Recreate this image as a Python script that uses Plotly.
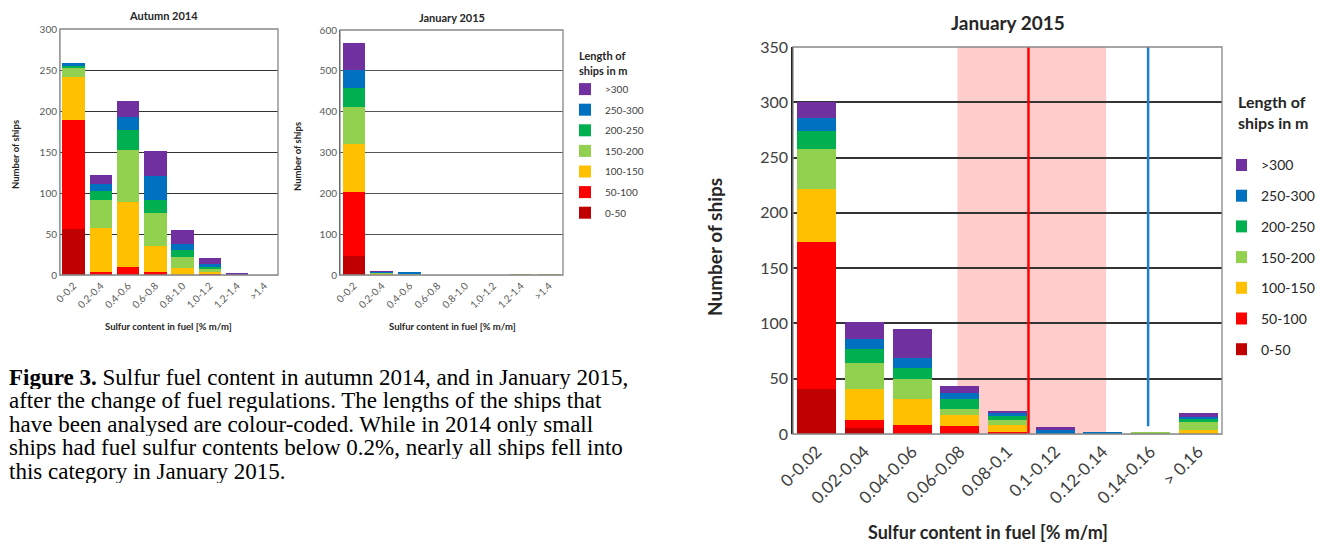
import plotly.graph_objects as go

W, H = 1331, 544
OFF = 8  # page body margin of the html page

size_classes = ["0-50", "50-100", "100-150", "150-200", "200-250", "250-300", ">300"]
size_colors = ["#C00000", "#FF0000", "#FFC000", "#92D050", "#00B050", "#0070C0", "#7030A0"]

cats_coarse = ["0-0.2", "0.2-0.4", "0.4-0.6", "0.6-0.8", "0.8-1.0", "1.0-1.2", "1.2-1.4", ">1.4"]
cats_fine = ["0-0.02", "0.02-0.04", "0.04-0.06", "0.06-0.08", "0.08-0.1",
             "0.1-0.12", "0.12-0.14", "0.14-0.16", "> 0.16"]

# Autumn 2014 (rows = size classes, cols = coarse sulfur categories)
autumn_0_50 = [56, 0, 0, 0, 0, 0, 0, 0]
autumn_50_100 = [133, 4, 10, 4, 0, 1, 0, 0]
autumn_100_150 = [52, 53, 79, 31, 8, 3, 0, 0]
autumn_150_200 = [11, 35, 63, 41, 14, 4, 0, 0]
autumn_200_250 = [4, 11, 25, 15, 8, 2, 0, 0]
autumn_250_300 = [2, 8, 16, 30, 8, 3, 0, 0]
autumn_300p = [0, 11, 19, 30, 17, 8, 2, 0]

# January 2015, coarse categories
jan_0_50 = [46, 0, 0, 0, 0, 0, 0, 0]
jan_50_100 = [157, 1, 0, 0, 0, 0, 0, 0]
jan_100_150 = [117, 3, 0, 0, 0, 0, 0, 0]
jan_150_200 = [91, 2, 3, 0, 0, 0, 2, 2]
jan_200_250 = [48, 1, 1, 0, 0, 0, 0, 0]
jan_250_300 = [42, 1, 2, 0, 0, 0, 0, 0]
jan_300p = [68, 1, 0, 0, 0, 0, 0, 0]

# January 2015, fine categories
fine_0_50 = [41, 5, 0, 0, 0, 0, 0, 0, 0]
fine_50_100 = [133, 8, 8, 7, 2, 0, 0, 0, 0]
fine_100_150 = [48, 28, 24, 10, 6, 0, 0, 0, 4]
fine_150_200 = [36, 23, 18, 6, 5, 0, 0, 1, 7]
fine_200_250 = [16, 13, 10, 9, 3, 0, 0, 0, 3]
fine_250_300 = [12, 9, 9, 5, 3, 4, 1, 0, 1]
fine_300p = [14, 15, 26, 6, 2, 2, 0, 0, 4]

autumn = [autumn_0_50, autumn_50_100, autumn_100_150, autumn_150_200,
          autumn_200_250, autumn_250_300, autumn_300p]
jan = [jan_0_50, jan_50_100, jan_100_150, jan_150_200, jan_200_250, jan_250_300, jan_300p]
fine = [fine_0_50, fine_50_100, fine_100_150, fine_150_200, fine_200_250, fine_250_300, fine_300p]

limit_line = 4.44     # 0.1 % limit, category-axis position
limit_band = (2.95, 6.07)
blue_line = 6.95

caption_lines = [
    "<b>Figure 3.</b> Sulfur fuel content in autumn 2014, and in January 2015,",
    "after the change of fuel regulations. The lengths of the ships that",
    "have been analysed are colour-coded. While in 2014 only small",
    "ships had fuel sulfur contents below 0.2%, nearly all ships fell into",
    "this category in January 2015.",
]

FONT = "Lato"


def px(x):
    return max(0.0, (x - OFF) / W)


def py(y):
    return 1 - (y - OFF) / H


fig = go.Figure()

n = len(size_classes)
for i, (name, col) in enumerate(zip(size_classes, size_colors)):
    fig.add_trace(go.Bar(x=cats_coarse, y=autumn[i], name=name, marker_color=col,
                         marker_line_width=0, xaxis="x", yaxis="y", showlegend=False))
    fig.add_trace(go.Bar(x=cats_coarse, y=jan[i], name=name, marker_color=col,
                         marker_line_width=0, xaxis="x2", yaxis="y2",
                         legend="legend", legendgroup="a" + name, legendrank=100 + n - i))
    fig.add_trace(go.Bar(x=cats_fine, y=fine[i], name=name, marker_color=col,
                         marker_line_width=0, xaxis="x3", yaxis="y3",
                         legend="legend2", legendgroup="b" + name, legendrank=100 + n - i))

small_tick = dict(family=FONT, size=10, color="#595959")
big_ytick = dict(family=FONT, size=16, color="#404040")
big_xtick = dict(family=FONT, size=17, color="#404040")

fig.update_layout(
    width=W, height=H,
    margin=dict(l=0, r=0, t=0, b=0, autoexpand=False),
    paper_bgcolor="white", plot_bgcolor="white",
    barmode="stack", bargap=0.18,
    font=dict(family=FONT, color="#404040"),
    xaxis=dict(type="category", domain=[px(60), px(278)], anchor="y", tickangle=-45,
               tickfont=small_tick, showline=True, linecolor="#D9D9D9", linewidth=1,
               ticks="", showgrid=False),
    yaxis=dict(domain=[py(275), py(29)], anchor="x", range=[0, 300], dtick=50,
               tickfont=small_tick, showgrid=True, gridcolor="#333333", gridwidth=1.3,
               showline=True, linecolor="#BFBFBF", ticks="", zeroline=False),
    xaxis2=dict(type="category", domain=[px(340), px(563)], anchor="y2", tickangle=-45,
                tickfont=small_tick, showline=True, linecolor="#D9D9D9", linewidth=1,
                ticks="", showgrid=False),
    yaxis2=dict(domain=[py(275), py(30)], anchor="x2", range=[0, 600], dtick=100,
                tickfont=small_tick, showgrid=True, gridcolor="#555555", gridwidth=1,
                showline=True, linecolor="#333333", ticks="", zeroline=False),
    xaxis3=dict(type="category", domain=[px(793), px(1222)], anchor="y3", tickangle=-45,
                tickfont=big_xtick, showline=True, linecolor="#D9D9D9", linewidth=1,
                ticks="", showgrid=False),
    yaxis3=dict(domain=[py(434), py(47)], anchor="x3", range=[0, 350], dtick=50,
                tickfont=big_ytick, showgrid=True, gridcolor="#333333", gridwidth=1.5,
                showline=True, linecolor="#222222", linewidth=1.5, ticks="", zeroline=False),
    legend=dict(x=px(577), y=py(46), xanchor="left", yanchor="top",
                traceorder="grouped", tracegroupgap=1.6, indentation=-12,
                font=dict(family=FONT, size=10, color="#404040"),
                title=dict(text="<b>Length of<br>ships in m</b>",
                           font=dict(family=FONT, size=11, color="#262626")),
                bgcolor="rgba(0,0,0,0)"),
    legend2=dict(x=px(1236), y=py(87), xanchor="left", yanchor="top",
                 traceorder="grouped", tracegroupgap=9.5, indentation=-15,
                 font=dict(family=FONT, size=14, color="#262626"),
                 title=dict(text="<b>Length of<br>ships in m</b><br>\u00a0",
                            font=dict(family=FONT, size=16, color="#262626")),
                 bgcolor="rgba(0,0,0,0)"),
)

shapes = [
    dict(type="rect", xref="x3", yref="y3 domain", x0=limit_band[0], x1=limit_band[1],
         y0=0, y1=1, fillcolor="#FFCCCC", line_width=0, layer="below"),
    dict(type="line", xref="x3", yref="y3 domain", x0=limit_line, x1=limit_line,
         y0=0, y1=1, line=dict(color="#FF0000", width=2.5), layer="above"),
    dict(type="line", xref="x3", yref="y3 domain", x0=blue_line, x1=blue_line,
         y0=0.02, y1=1, line=dict(color="#1F7FCF", width=2.5), layer="above"),
]
for ax in ["", "2", "3"]:
    shapes.append(dict(type="rect", xref=f"x{ax} domain", yref=f"y{ax} domain",
                       x0=0, x1=1, y0=0, y1=1, line=dict(color="#888888", width=1.3),
                       fillcolor="rgba(0,0,0,0)", layer="above"))
fig.update_layout(shapes=shapes)

ann = []


def text(x, y, s, size, bold=False, angle=0, color="#262626", family=FONT, xanchor="center",
         height=None):
    d = dict(x=px(x), y=py(y), xref="paper", yref="paper", text=f"<b>{s}</b>" if bold else s,
             showarrow=False, textangle=angle, xanchor=xanchor, yanchor="middle",
             font=dict(family=family, size=size, color=color), borderpad=0)
    if height:
        d["height"] = height
    ann.append(d)


text(163, 16, "Autumn 2014", 11, bold=True)
text(452, 17, "January 2015", 11, bold=True)
text(1008, 22, "January 2015", 19, bold=True)
text(168, 326, "Sulfur content in fuel [% m/m]", 9.5, bold=True)
text(452, 326, "Sulfur content in fuel [% m/m]", 9.5, bold=True)
text(988, 532, "Sulfur content in fuel [% m/m]", 18, bold=True)
text(15, 155, "Number of ships", 9.5, bold=True, angle=-90)
text(297, 157, "Number of ships", 9.5, bold=True, angle=-90)
text(714, 247, "Number of ships", 19, bold=True, angle=-90)

for k, line in enumerate(caption_lines):
    text(8, 377 + 23.5 * k, line, 23, color="black", family="Liberation Serif", xanchor="left",
         height=23)

fig.update_layout(annotations=ann)

fig.write_html("out.html")
